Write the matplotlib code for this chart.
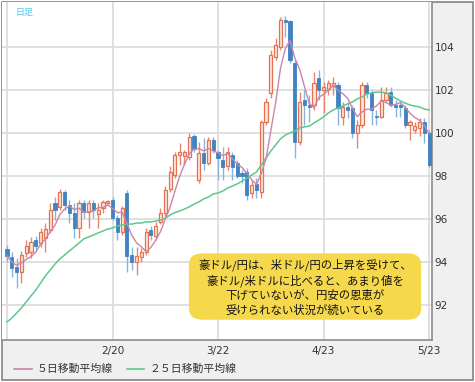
import pandas as pd
import matplotlib.pyplot as plt
from matplotlib.patches import Rectangle, FancyBboxPatch
from matplotlib.lines import Line2D

plt.rcParams['font.family'] = ['Noto Sans CJK JP', 'DejaVu Sans']

# AUD/JPY daily, 2013-01-21 .. 2013-05-23
dates = pd.bdate_range('2013-01-21', '2013-05-23')

opens = [94.58, 94.21, 93.74, 93.51, 94.40, 94.44, 95.00, 94.86, 95.09, 95.47,
         96.72, 96.54, 97.23, 96.63, 96.27, 95.56, 96.72, 96.30, 96.72, 96.21,
         96.49, 96.72, 96.86, 96.02, 95.37, 97.19, 94.30, 93.98, 94.21, 94.44,
         95.47, 95.19, 95.84, 96.27, 97.37, 98.02, 98.95, 98.91, 98.86, 99.84,
         97.79, 99.05, 98.58, 99.65, 99.09, 98.72, 98.44, 98.95, 98.58, 98.12,
         98.16, 97.19, 97.61, 97.23, 100.49, 101.84, 103.51, 103.98, 105.23, 105.19,
         103.23, 99.56, 101.51, 101.28, 101.28, 102.54, 101.98, 102.02, 102.16, 102.21,
         100.72, 101.19, 101.14, 99.98, 100.35, 102.21, 101.84, 100.77, 100.72, 101.51,
         101.88, 101.28, 101.28, 101.14, 100.35, 100.12, 100.21, 100.49, 99.98]
highs = [94.77, 94.44, 94.16, 94.49, 95.00, 95.14, 95.19, 95.56, 95.79, 96.72,
         97.00, 97.37, 97.33, 96.86, 96.72, 96.86, 96.86, 96.86, 96.86, 96.72,
         96.86, 96.86, 97.00, 96.16, 96.58, 97.33, 94.67, 94.67, 94.63, 95.56,
         95.65, 95.84, 96.49, 97.51, 98.44, 99.09, 99.51, 99.19, 99.98, 99.93,
         99.56, 99.74, 99.79, 99.79, 99.19, 99.33, 99.33, 99.09, 98.72, 98.26,
         98.35, 97.79, 97.88, 100.58, 101.60, 103.84, 104.40, 105.37, 105.42, 105.23,
         103.37, 101.88, 101.98, 101.74, 102.81, 102.91, 102.35, 102.44, 102.58, 102.35,
         101.42, 101.42, 101.28, 100.58, 102.35, 102.35, 101.98, 101.05, 102.12, 102.12,
         102.12, 101.51, 101.37, 101.28, 100.58, 100.49, 100.68, 100.68, 100.12]
lows = [93.98, 93.28, 92.77, 93.00, 94.21, 94.16, 94.53, 94.67, 94.44, 95.33,
        95.93, 96.40, 96.40, 95.79, 95.09, 95.09, 96.02, 95.56, 96.02, 95.56,
        96.27, 96.63, 95.93, 95.00, 95.23, 93.51, 93.60, 93.37, 93.98, 94.30,
        95.00, 95.00, 95.74, 96.12, 97.23, 97.88, 98.49, 98.49, 98.72, 99.09,
        97.65, 98.26, 98.49, 99.05, 97.79, 97.79, 98.26, 97.79, 97.88, 97.65,
        96.86, 96.95, 96.95, 96.95, 100.35, 101.60, 103.37, 103.84, 104.44, 103.23,
        98.81, 99.42, 100.35, 100.49, 101.05, 101.51, 100.91, 101.74, 101.74, 100.35,
        100.35, 100.68, 99.74, 99.28, 100.21, 101.60, 100.35, 100.35, 100.68, 101.42,
        101.19, 100.72, 100.72, 100.21, 99.65, 99.98, 99.84, 99.51, 98.40]
closes = [94.26, 93.70, 93.51, 94.30, 94.72, 94.91, 94.72, 95.37, 95.51, 96.40,
          96.40, 97.23, 96.63, 96.27, 95.56, 96.72, 96.30, 96.72, 96.40, 96.40,
          96.77, 96.81, 96.02, 95.37, 96.49, 94.26, 93.98, 94.26, 94.44, 95.37,
          95.23, 95.65, 96.27, 97.33, 98.16, 98.95, 99.09, 99.09, 99.79, 99.23,
          99.05, 98.58, 99.65, 99.19, 98.81, 98.40, 99.09, 98.40, 97.98, 97.98,
          97.09, 97.56, 97.33, 100.49, 101.42, 103.61, 104.07, 105.23, 105.14, 103.37,
          99.56, 101.42, 101.28, 101.19, 102.30, 101.98, 102.12, 102.30, 102.30, 101.14,
          101.19, 101.05, 99.98, 100.35, 102.21, 101.84, 101.05, 100.72, 101.51, 101.84,
          101.28, 101.19, 101.19, 100.35, 100.49, 100.30, 100.49, 99.98, 98.49]
# 25-day moving average as shown on the chart
ma25 = [91.19, 91.37, 91.60, 91.84, 92.12, 92.40, 92.67, 93.00, 93.33, 93.60,
        93.88, 94.12, 94.30, 94.49, 94.67, 94.86, 95.05, 95.14, 95.23, 95.33,
        95.42, 95.51, 95.56, 95.65, 95.70, 95.74, 95.74, 95.79, 95.79, 95.84,
        95.84, 95.88, 95.93, 96.02, 96.16, 96.27, 96.35, 96.44, 96.54, 96.67,
        96.77, 96.91, 97.00, 97.14, 97.19, 97.28, 97.42, 97.51, 97.61, 97.74,
        97.88, 98.02, 98.16, 98.49, 98.81, 99.14, 99.42, 99.70, 99.88, 99.98,
        100.07, 100.21, 100.26, 100.30, 100.44, 100.58, 100.72, 100.91, 101.05, 101.14,
        101.23, 101.33, 101.42, 101.56, 101.65, 101.79, 101.84, 101.88, 101.88, 101.84,
        101.74, 101.60, 101.47, 101.37, 101.28, 101.23, 101.19, 101.09, 101.05]

yticks = [92, 94, 96, 98, 100, 102, 104]
tick_dates = ['2013-01-21', '2013-02-20', '2013-03-22', '2013-04-23', '2013-05-23']

note = ("豪ドル/円は、米ドル/円の上昇を受けて、\n"
        "豪ドル/米ドルに比べると、あまり値を\n"
        "下げていないが、円安の恩恵が\n"
        "受けられない状況が続いている")

df = pd.DataFrame({'open': opens, 'high': highs, 'low': lows, 'close': closes,
                   'ma25': ma25}, index=dates)
df['ma5'] = df['close'].rolling(5, min_periods=1).mean()
x = list(range(len(df)))

W, H = 475, 382
fig = plt.figure(figsize=(W / 100, H / 100), dpi=100)
fig.patches.append(Rectangle((2 / W, 2 / H), 471 / W, 378 / H, transform=fig.transFigure,
                             facecolor='#f0f0f0', edgecolor='#8c8c8c', lw=1.3, zorder=-5))
ax = fig.add_axes([2 / W, 42 / H, 430 / W, 338 / H])
ax.set_zorder(1)
ax.set_facecolor('white')

up = df['close'] >= df['open']
dn = ~up
xs = pd.Series(x, index=df.index)

# wicks
ax.vlines(xs[up], df['low'][up], df['high'][up], color='#e8866c', lw=1, zorder=3)
ax.vlines(xs[dn], df['low'][dn], df['high'][dn], color='#86b4dc', lw=1, zorder=3)
# bodies
ax.bar(xs[up], (df['close'] - df['open'])[up].clip(lower=0.04), bottom=df['open'][up],
       width=0.66, color='#fbe6df', edgecolor='#e4714f', lw=0.9, zorder=4)
ax.bar(xs[dn], (df['open'] - df['close'])[dn].clip(lower=0.04), bottom=df['close'][dn],
       width=0.66, color='#3f83c2', edgecolor='#3f83c2', lw=0.6, zorder=4)

ax.plot(x, df['ma25'], color='#5cc98c', lw=1.1, zorder=5)
ax.plot(x, df['ma5'], color='#c985ad', lw=1.0, zorder=5)

ax.set_xlim(-1.04, 88.6)
ax.set_ylim(90.35, 106.07)

pos = [df.index.get_loc(pd.Timestamp(d)) for d in tick_dates]
ax.set_xticks(pos)
ax.set_xticklabels([''] + [f'{pd.Timestamp(d).month}/{pd.Timestamp(d).day}' for d in tick_dates[1:]],
                   fontsize=7.5, color='#333333', family='DejaVu Sans')
ax.set_yticks(yticks)
ax.set_yticklabels([str(v) for v in yticks], fontsize=7.5, color='#333333', family='DejaVu Sans')
ax.yaxis.tick_right()
ax.tick_params(length=0, pad=2)
ax.tick_params(axis='x', pad=4)
ax.grid(True, color='#dddddd', lw=1.3, zorder=0)
ax.set_axisbelow(True)
for s in ['top', 'left']:
    ax.spines[s].set_visible(False)
for s in ['right', 'bottom']:
    ax.spines[s].set_color('#8c8c8c')
    ax.spines[s].set_linewidth(1.2)

fig.text(15 / W, 1 - 12 / H, '日足', fontsize=6.5, color='#55c4ef', va='center')

# note box
fig.patches.append(FancyBboxPatch((196 / W, 1 - 314 / H), 218 / W, 55 / H,
                                  boxstyle='round,pad=0.015,rounding_size=0.03',
                                  transform=fig.transFigure, facecolor='#f5d84c',
                                  edgecolor='none', zorder=6))
fig.text(305 / W, 1 - 287 / H, note, fontsize=8.2, ha='center', va='center',
         multialignment='center', linespacing=1.35, color='#111111', zorder=7)

# legend
fig.lines.append(Line2D([14 / W, 32 / W], [1 - 369 / H] * 2, color='#c985ad', lw=1.2,
                        transform=fig.transFigure))
fig.text(37 / W, 1 - 369 / H, '５日移動平均線', fontsize=7.8, color='#333333', va='center')
fig.lines.append(Line2D([127 / W, 144 / W], [1 - 369 / H] * 2, color='#5cc98c', lw=1.2,
                        transform=fig.transFigure))
fig.text(150 / W, 1 - 369 / H, '２５日移動平均線', fontsize=7.8, color='#333333', va='center')

fig.savefig('out.png', dpi=100)
